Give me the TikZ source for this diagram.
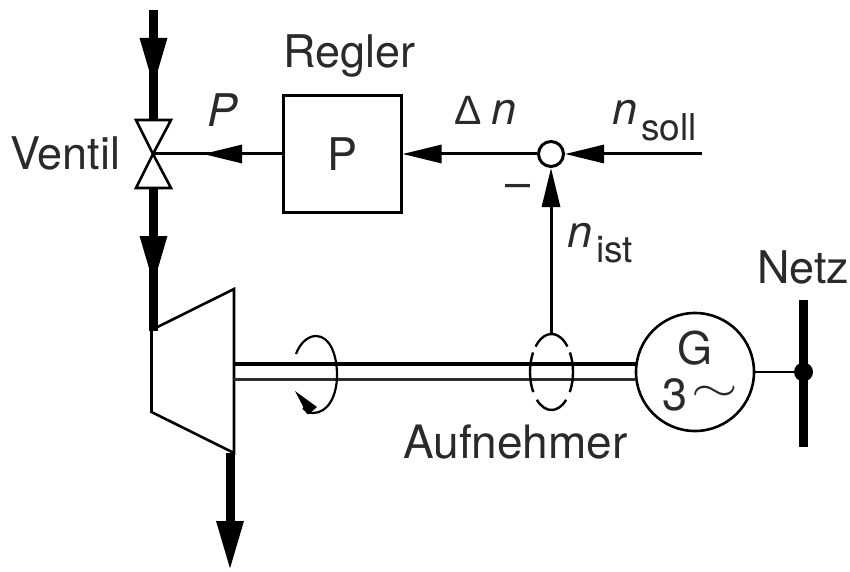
\documentclass[tikz,border=0pt]{standalone}
\usepackage{fontspec}
\usepackage{graphicx}
\setmainfont{TeX Gyre Heros}
\newfontfamily\grk{Liberation Sans}
\usetikzlibrary{arrows.meta}
\definecolor{ink}{HTML}{2A2A2A}
\tikzset{
  x=1pt,y=-1pt,
  lbl/.style={font=\fontsize{45}{50}\selectfont,text=ink,inner sep=0pt,anchor=base west},
  subl/.style={font=\fontsize{37}{40}\selectfont,text=ink,inner sep=0pt,anchor=base west},
  wire/.style={line width=3pt,black},
  pipe/.style={line width=9pt,black},
  thin part/.style={line width=2.6pt,draw=black,fill=white,line join=miter},
  sigtip/.style={-{Triangle[length=39pt,width=18pt]}},
  pipetip/.style={-{Triangle[length=50pt,width=25pt]}},
  sensor/.style={line width=2.4pt,black}
}
\begin{document}
\begin{tikzpicture}
\useasboundingbox (0,0) rectangle (850,572);
% coordinates
\coordinate (vc) at (153,154);
\coordinate (vt) at (153.5,120);
\coordinate (vb) at (153.5,188);
\coordinate (pin) at (153.5,10);
\coordinate (ptip1) at (153.5,88);
\coordinate (ptip2) at (153.5,286);
\coordinate (tin) at (153.5,331);
\coordinate (tout) at (230,453);
\coordinate (ttip3) at (230,571);
\coordinate (ptipS) at (203,154);
\coordinate (soll) at (702,154);
\coordinate (sh1a) at (234,364);
\coordinate (sh2a) at (234,379.5);
\coordinate (sh1b) at (636,364);
\coordinate (sh2b) at (636,379.5);
\coordinate (bartop) at (803.5,300);
\coordinate (barbot) at (803.5,447);
% pipes
\draw[pipe] (pin) -- (vt);
\draw[pipe,pipetip] (pin) -- (ptip1);
\draw[pipe] (vb) -- (tin);
\draw[pipe,pipetip] (vb) -- (ptip2);
\draw[pipe,pipetip] (tout) -- (ttip3);
% turbine
\draw[thin part,fill=none] (151.5,330) -- (234,289) -- (234,453) -- (151.5,412) -- cycle;
% valve
\draw[thin part,fill=white] (136,120) -- (171,120) -- (vc) -- (171,188) -- (136,188) -- (vc) -- cycle;
% controller
\node[draw=black,line width=3pt,minimum width=118pt,minimum height=116pt,inner sep=0pt] (box) at (342,154) {};
\node[circle,draw=black,line width=3pt,minimum size=25pt,inner sep=0pt] (sum) at (551,154) {};
\node[circle,draw=black,line width=2.6pt,minimum size=118pt,inner sep=0pt] (gen) at (695,372) {};
\node[circle,fill=black,minimum size=19pt,inner sep=0pt] (dot) at (803.5,372) {};
% signal wires
\draw[wire] (box.west) -- (vc);
\draw[wire,sigtip] (box.west) -- (ptipS);
\draw[wire,sigtip] (sum.west) -- (box.east);
\draw[wire,sigtip] (soll) -- (sum.east);
% shaft
\draw[wire,line width=3.4pt] (sh1a) -- (sh1b);
\draw[wire,gray!35!black] (sh2a) -- (sh2b);
\draw[wire,line width=2.6pt] (gen.east) -- (dot);
\draw[pipe] (bartop) -- (barbot);
% sensor
\coordinate (sc) at (551.5,372);
\coordinate (sens) at (551,334);
\draw[sensor] (sc) ++(42:21.5 and -38) arc [start angle=42,end angle=138,x radius=21.5,y radius=-38];
\draw[sensor] (sc) ++(-32:21.5 and -38) arc [start angle=-32,end angle=31,x radius=21.5,y radius=-38];
\draw[sensor] (sc) ++(149:21.5 and -38) arc [start angle=149,end angle=212,x radius=21.5,y radius=-38];
\draw[sensor] (sc) ++(-133:21.5 and -38) arc [start angle=-133,end angle=-47,x radius=21.5,y radius=-38];
\draw[wire,sigtip] (sens) -- (sum.south);
% rotation arrow
\draw[line width=2.2pt] (296,354) .. controls (300,343) and (308,336) .. (316,336)
  .. controls (330,336) and (337,355) .. (337,375)
  .. controls (337,396) and (328,413) .. (313,413) .. controls (309,413) and (306,411) .. (303,408);
\fill (295,391) -- (317,407) -- (309,414) -- (307,414) -- cycle;
% text
\node[lbl] (regler) at (283,68) {Regler};
\node[lbl] (ventil) at (10,169) {Ventil};
\node[lbl,font=\fontsize{45}{50}\selectfont\itshape] (pp) at (207,127) {P};
\node[lbl] (pbox) at (327,170) {P};
\node[lbl] (delta) at (454,125) {{\grk\fontsize{41}{44}\selectfont Δ}};
\node[lbl,font=\fontsize{45}{50}\selectfont\itshape] (dn) at (491,125) {n};
\node[lbl,font=\fontsize{45}{50}\selectfont\itshape] (ns) at (612,125) {n};
\node[subl] (soll t) at (641,141) {soll};
\node[lbl] (minus) at (505,198) {–};
\node[lbl,font=\fontsize{45}{50}\selectfont\itshape] (ni) at (567,247) {n};
\node[subl] (ist t) at (596,262) {ist};
\node[lbl] (netz) at (757,283) {Netz};
\node[lbl,font=\fontsize{46}{50}\selectfont] (auf) at (403,458) {Aufnehmer};
\node[lbl] (g) at (677,364) {G};
\node[lbl] (three) at (662,410) {3};
\node[inner sep=0pt,text=ink] (tilde) at (715,394) {\scalebox{6}[4.2]{$\sim$}};
\end{tikzpicture}
\end{document}
